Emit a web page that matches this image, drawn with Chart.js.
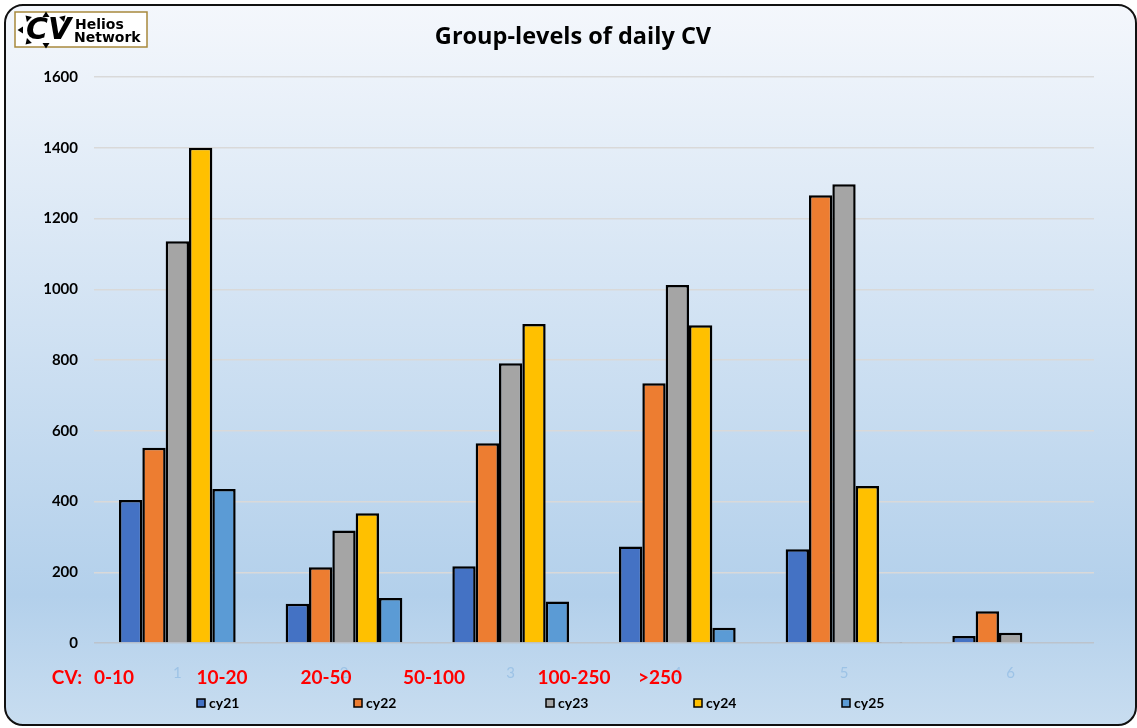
<!DOCTYPE html>
<html>
<head>
<meta charset="utf-8">
<script src="https://cdn.jsdelivr.net/npm/chart.js@4.4.1/dist/chart.umd.min.js"></script>
<style>
  html, body { margin: 0; padding: 0; background: #fff; }
  #wrap { width: 1137px; height: 728px; position: relative; }
</style>
</head>
<body>
<div id="wrap"><canvas id="cvChart"></canvas></div>
<script>
// categories and series
const categories = ['1', '2', '3', '4', '5', '6'];
const cy21 = [404, 111, 217, 273, 265, 20];
const cy22 = [552, 214, 565, 734, 1266, 90];
const cy23 = [1136, 318, 791, 1012, 1297, 29];
const cy24 = [1400, 367, 902, 898, 444, 0];
const cy25 = [435, 127, 117, 43, 3, 0];
const seriesNames = ['cy21', 'cy22', 'cy23', 'cy24', 'cy25'];
const cvLabels = ['CV:', '0-10', '10-20', '20-50', '50-100', '100-250', '>250'];
const yTicks = [0, 200, 400, 600, 800, 1000, 1200, 1400, 1600];

const colors = ['#4472C4', '#ED7D31', '#A5A5A5', '#FFC000', '#5B9BD5'];
const allSeries = [cy21, cy22, cy23, cy24, cy25];

const ctx = document.getElementById('cvChart');

// rounded card with a blue gradient behind everything
const cardBg = {
  id: 'cardBg',
  beforeDraw(chart) {
    const c = chart.ctx;
    c.save();
    const g = c.createLinearGradient(0, 5, 0, 725);
    g.addColorStop(0, '#f4f7fc');
    g.addColorStop(0.82, '#b3d0eb');
    g.addColorStop(1, '#c8ddf0');
    c.beginPath();
    c.roundRect(5, 5, 1131, 720, 18);
    c.fillStyle = g;
    c.fill();
    c.lineWidth = 2;
    c.strokeStyle = '#111';
    c.stroke();
    c.restore();
  }
};

// title, logo, red CV range labels and the legend
const extras = {
  id: 'extras',
  afterDraw(chart) {
    const c = chart.ctx;
    c.save();
    // title
    c.fillStyle = '#000';
    c.font = 'bold 23.5px "Open Sans"';
    c.textAlign = 'center';
    c.textBaseline = 'middle';
    c.fillText('Group-levels of daily CV', 573, 37);

    // logo box
    c.fillStyle = '#fff';
    c.fillRect(15, 12, 132, 35);
    c.strokeStyle = '#a8893c';
    c.lineWidth = 1.5;
    c.strokeRect(15, 12, 132, 35);
    c.fillStyle = '#000';
    // sun rays
    const rays = [[46, 15, 0], [21, 30, -Math.PI / 2], [46, 45, Math.PI], [28, 18, -Math.PI / 4], [28, 42, -3 * Math.PI / 4], [63, 18, Math.PI / 4]];
    rays.forEach(r => {
      c.save();
      c.translate(r[0], r[1]);
      c.rotate(r[2]);
      c.beginPath();
      c.moveTo(0, -3.5); c.lineTo(3.5, 2); c.lineTo(-3.5, 2);
      c.closePath();
      c.fill();
      c.restore();
    });
    c.font = 'italic bold 30px "DejaVu Sans"';
    c.textAlign = 'left';
    c.fillText('CV', 26, 31);
    c.font = 'bold 14px "DejaVu Sans"';
    c.textBaseline = 'alphabetic';
    c.fillText('Helios', 75, 29);
    c.fillText('Network', 74, 42);
    c.textBaseline = 'middle';

    // red range labels
    const cvX = [67, 114, 222, 326, 434, 574, 660];
    c.font = 'bold 19px Lato';
    c.fillStyle = '#ff0000';
    c.textAlign = 'center';
    cvLabels.forEach((t, i) => c.fillText(t, cvX[i], 678));

    // legend
    const legX = [197, 354, 546, 694, 842];
    c.font = 'bold 14px Lato';
    chart.data.datasets.forEach((ds, i) => {
      c.fillStyle = ds.backgroundColor;
      c.fillRect(legX[i], 699, 8, 8);
      c.strokeStyle = '#000';
      c.lineWidth = 1.5;
      c.strokeRect(legX[i], 699, 8, 8);
      c.fillStyle = '#000';
      c.textAlign = 'left';
      c.fillText(ds.label, legX[i] + 12, 703);
    });
    c.restore();
  }
};

new Chart(ctx, {
  type: 'bar',
  data: {
    labels: categories,
    datasets: seriesNames.map((name, i) => ({
      label: name,
      data: allSeries[i],
      backgroundColor: colors[i],
      borderColor: '#000',
      borderWidth: 2.5,
      borderSkipped: 'bottom',
      categoryPercentage: 0.7,
      barPercentage: 1.0
    }))
  },
  options: {
    responsive: true,
    maintainAspectRatio: false,
    animation: false,
    layout: { padding: { left: 20, right: 43, top: 77, bottom: 0 } },
    plugins: {
      legend: { display: false },
      title: { display: false },
      tooltip: { enabled: false }
    },
    scales: {
      x: {
        grid: { display: false },
        border: { display: false },
        ticks: { color: '#9dc3e6', font: { family: 'Lato', size: 15 }, padding: 13 },
        afterFit(scale) { scale.height = 85; }
      },
      y: {
        min: 0,
        max: 1600,
        afterBuildTicks(scale) { scale.ticks = yTicks.map(v => ({ value: v })); },
        grid: {
          drawTicks: false,
          color: c => c.tick && c.tick.value === 0 ? '#bcc3cc' : '#d9d9d9',
          lineWidth: 1.5
        },
        border: { display: false },
        ticks: {
          color: '#000',
          font: { family: 'Lato', size: 15, weight: 'bold' },
          padding: 16,
          callback: v => String(v)
        },
        afterFit(scale) { scale.width = 74; }
      }
    }
  },
  plugins: [cardBg, extras]
});
</script>
</body>
</html>
